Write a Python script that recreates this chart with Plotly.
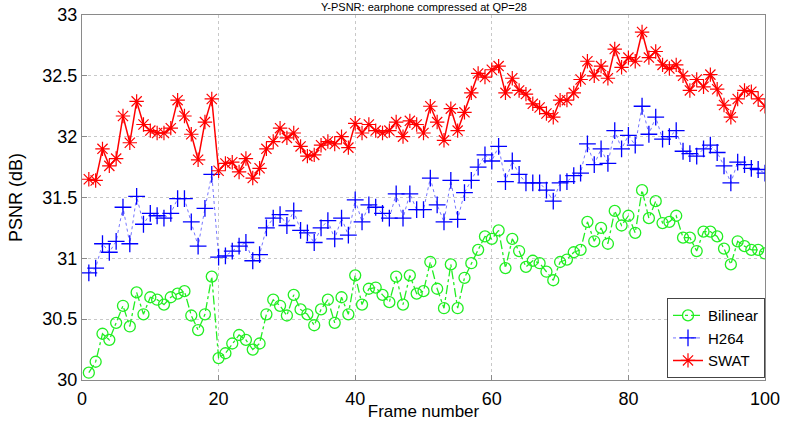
import plotly.graph_objects as go

frames = list(range(1, 101))

bilinear = [
    30.06, 30.15, 30.38, 30.33, 30.47, 30.61, 30.44, 30.72, 30.54, 30.68,
    30.66, 30.62, 30.68, 30.71, 30.73, 30.53, 30.41, 30.54, 30.85, 30.18,
    30.22, 30.30, 30.37, 30.33, 30.25, 30.30, 30.54, 30.66, 30.61, 30.53,
    30.70, 30.58, 30.54, 30.45, 30.58, 30.66, 30.47, 30.68, 30.54, 30.86,
    30.62, 30.75, 30.76, 30.70, 30.64, 30.85, 30.62, 30.86, 30.71, 30.73,
    30.97, 30.75, 30.59, 30.95, 30.59, 30.84, 30.96, 31.07, 31.18, 31.16,
    31.23, 30.92, 31.16, 31.06, 30.93, 30.98, 30.96, 30.89, 30.82, 30.97,
    30.99, 31.05, 31.07, 31.30, 31.14, 31.25, 31.12, 31.39, 31.27, 31.35,
    31.21, 31.56, 31.33, 31.47, 31.29, 31.30, 31.35, 31.17, 31.17, 31.06,
    31.22, 31.22, 31.18, 31.08, 30.95, 31.14, 31.10, 31.07, 31.07, 31.04,
]

h264 = [
    30.88, 30.92, 31.12, 31.05, 31.14, 31.42, 31.12, 31.51, 31.28, 31.37,
    31.35, 31.33, 31.37, 31.49, 31.49, 31.30, 31.10, 31.41, 31.69, 31.01,
    31.02, 31.06, 31.10, 31.13, 30.98, 31.03, 31.25, 31.33, 31.36, 31.27,
    31.39, 31.23, 31.21, 31.13, 31.25, 31.31, 31.16, 31.33, 31.19, 31.48,
    31.30, 31.44, 31.42, 31.37, 31.33, 31.53, 31.33, 31.53, 31.40, 31.40,
    31.66, 31.44, 31.30, 31.64, 31.32, 31.54, 31.64, 31.75, 31.85, 31.80,
    31.92, 31.63, 31.80, 31.69, 31.62, 31.62, 31.62, 31.56, 31.47, 31.62,
    31.63, 31.68, 31.70, 31.94, 31.77, 31.90, 31.78, 32.05, 31.90, 32.01,
    31.93, 32.25, 32.02, 32.16, 31.98, 32.00, 32.05, 31.88, 31.86, 31.84,
    31.90, 31.93, 31.87, 31.76, 31.62, 31.79, 31.77, 31.74, 31.73, 31.70,
]

swat = [
    31.65, 31.64, 31.90, 31.76, 31.82, 32.17, 31.95, 32.29, 32.10, 32.05,
    32.03, 32.03, 32.07, 32.30, 32.17, 32.02, 31.81, 32.12, 32.31, 31.72,
    31.78, 31.79, 31.71, 31.82, 31.66, 31.74, 31.90, 31.96, 32.07, 31.99,
    32.03, 31.92, 31.84, 31.85, 31.93, 31.96, 31.94, 32.00, 31.91, 32.11,
    32.03, 32.10, 32.05, 32.03, 32.05, 32.12, 32.00, 32.13, 32.10, 32.03,
    32.25, 32.12, 31.97, 32.23, 32.05, 32.20, 32.36, 32.52, 32.49, 32.55,
    32.58, 32.36, 32.48, 32.38, 32.35, 32.27, 32.24, 32.19, 32.16, 32.30,
    32.30, 32.36, 32.47, 32.62, 32.50, 32.58, 32.48, 32.72, 32.57, 32.65,
    32.62, 32.86, 32.65, 32.70, 32.59, 32.56, 32.59, 32.50, 32.38, 32.47,
    32.41, 32.51, 32.39, 32.26, 32.16, 32.31, 32.38, 32.37, 32.31, 32.25,
]

x_ticks = [0, 20, 40, 60, 80, 100]
y_ticks = [30, 30.5, 31, 31.5, 32, 32.5, 33]
y_tick_text = ["30", "30.5", "31", "31.5", "32", "32.5", "33"]

FONT = "Liberation Sans, Arial, sans-serif"
GREEN = "#22ee22"
BLUE = "#0000ff"
RED = "#ff0000"

fig = go.Figure()

fig.add_trace(go.Scatter(
    x=frames, y=bilinear, name="Bilinear", mode="lines+markers",
    line=dict(color=GREEN, width=1.3, dash="dashdot"),
    marker=dict(symbol="circle-open", size=11, color=GREEN,
                line=dict(width=1.3, color=GREEN)),
))
fig.add_trace(go.Scatter(
    x=frames, y=h264, name="H264", mode="lines+markers",
    line=dict(color="#7777ff", width=1, dash="dot"),
    marker=dict(symbol="cross-thin-open", size=12, color=BLUE,
                line=dict(width=1.3, color=BLUE)),
))
fig.add_trace(go.Scatter(
    x=frames, y=swat, name="SWAT", mode="lines+markers",
    line=dict(color=RED, width=1.5),
    marker=dict(symbol="asterisk-open", size=12, color=RED,
                line=dict(width=1.2, color=RED)),
))

axis_common = dict(
    showline=True, mirror=True, linecolor="#8a8a8a", linewidth=1,
    showgrid=True, gridcolor="#c8c8c8", griddash="dot", gridwidth=1,
    ticks="inside", ticklen=5, tickcolor="#8a8a8a",
    zeroline=False, automargin=False,
    tickfont=dict(family=FONT, size=18, color="#000000"),
)

fig.update_xaxes(
    range=[0, 100], tickvals=x_ticks, ticklabelstandoff=2,
    title=dict(text="Frame number", font=dict(family=FONT, size=17, color="#000")),
    **axis_common,
)
fig.update_yaxes(
    range=[30, 33], tickvals=y_ticks, ticktext=y_tick_text,
    title=dict(text="PSNR (dB)", font=dict(family=FONT, size=18, color="#000")),
    **axis_common,
)

fig.add_annotation(
    text="Y-PSNR: earphone compressed at QP=28",
    xref="paper", yref="paper", x=0.5, y=1, xanchor="center", yanchor="bottom",
    yshift=0, showarrow=False,
    font=dict(family=FONT, size=11, color="#000"),
)

fig.update_layout(
    width=790, height=421,
    margin=dict(l=82, r=25, t=15, b=41, autoexpand=False),
    paper_bgcolor="white", plot_bgcolor="white",
    showlegend=True,
    legend=dict(
        x=1, y=0.005, xanchor="right", yanchor="bottom",
        bgcolor="white", bordercolor="#444444", borderwidth=1,
        font=dict(family=FONT, size=15, color="#000"),
        tracegroupgap=0, itemwidth=30,
    ),
)

fig.write_html("out.html")
